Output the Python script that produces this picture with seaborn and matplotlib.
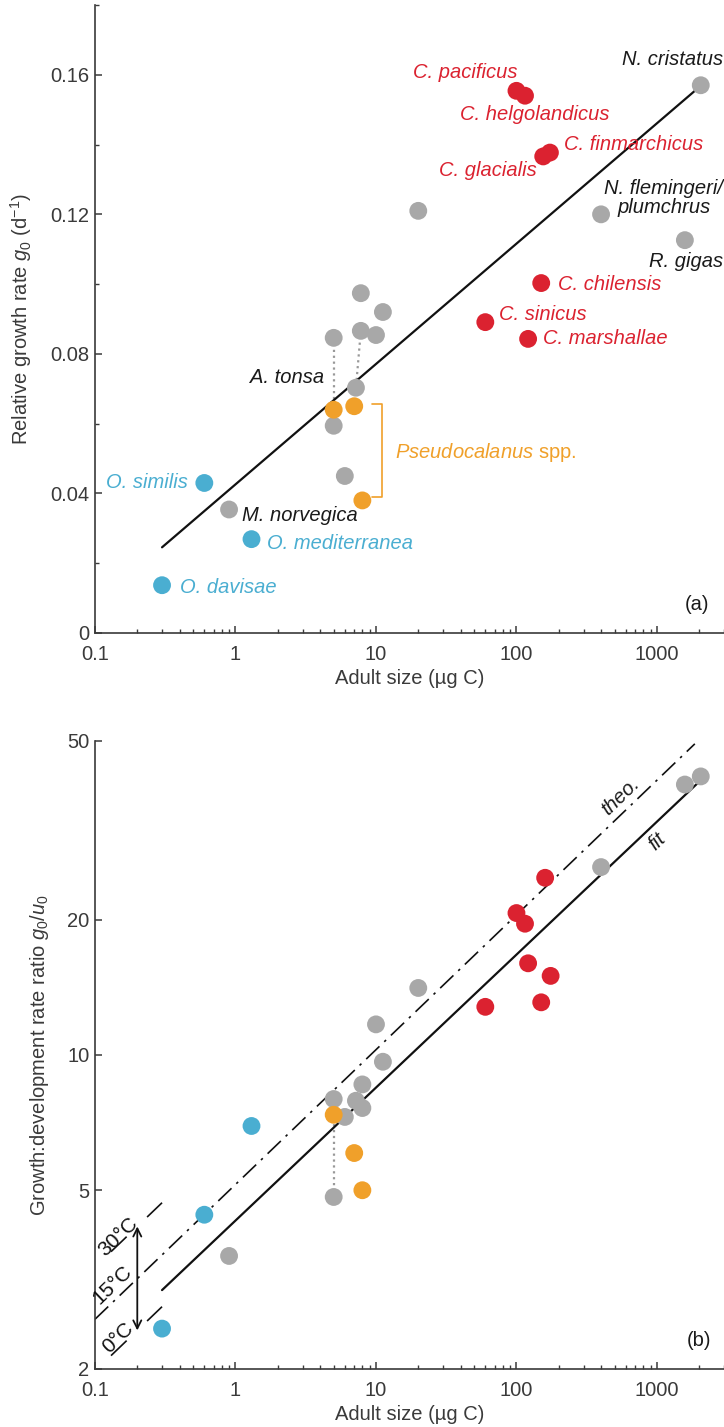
import numpy as np
import pandas as pd
import matplotlib
matplotlib.use("Agg")
import matplotlib.pyplot as plt
import matplotlib.ticker as mticker
import seaborn as sns

# Colours of the four groups
group_colors = {"Oithona": "#4aaed1", "other": "#a8a8a8",
                "Pseudocalanus": "#f0a02a", "Calanus": "#db2230"}

# Panel (a): adult size (ug C) vs relative growth rate g0 (1/d)
top_size = [0.3, 0.6, 1.3,
            0.9, 7.8, 11.2, 5.0, 7.8, 10.0, 7.2, 5.0, 6.0, 20.0, 400, 1580, 2050,
            5.0, 7.0, 8.0,
            100, 115, 173, 155, 150, 60, 121]
top_g0 = [0.0137, 0.043, 0.0269,
          0.0354, 0.0974, 0.092, 0.0846, 0.0866, 0.0854, 0.0703, 0.0594, 0.045, 0.121, 0.120, 0.1126, 0.157,
          0.064, 0.065, 0.038,
          0.1554, 0.154, 0.1377, 0.1366, 0.1003, 0.0891, 0.0843]
top_group = ["Oithona"] * 3 + ["other"] * 13 + ["Pseudocalanus"] * 3 + ["Calanus"] * 7
top_links = [(6, 16), (7, 9)]   # dotted connectors (index pairs)

# Panel (b): adult size vs growth:development rate ratio g0/u0
bot_size = [0.3, 0.6, 1.3,
            0.9, 5.0, 5.0, 6.0, 7.2, 8.0, 8.0, 11.2, 10.0, 20.0, 400, 1580, 2050,
            5.0, 7.0, 8.0,
            160, 100, 115, 121, 175, 150, 60]
bot_ratio = [2.46, 4.41, 6.95,
             3.57, 4.83, 7.98, 7.28, 7.91, 7.62, 8.6, 9.66, 11.7, 14.1, 26.2, 40.0, 41.7,
             7.36, 6.05, 5.0,
             24.8, 20.7, 19.6, 16.0, 15.0, 13.1, 12.8]
bot_group = ["Oithona"] * 3 + ["other"] * 13 + ["Pseudocalanus"] * 3 + ["Calanus"] * 7
bot_links = [(4, 16)]

# Fits
top_fit_a, top_fit_b = 0.0426, 0.0345          # g0 = a + b*log10(W)
top_fit_range = (0.3, 2050)
bot_fit_c, bot_fit_e = 4.28, 0.296              # g0/u0 = c * W^e
bot_fit_range = (0.3, 2000)
theo_e = 0.3
theo_c = {0: 3.95, 15: 5.15, 30: 6.73}          # theoretical line per temperature
theo_range = (0.1, 1860)
temp_range = (0.13, 0.3)

# Species labels for panel (a): text, x, y, ha, colour group
labels = [
    ("C. pacificus", 102, 0.1606, "right", "Calanus"),
    ("C. helgolandicus", 39.6, 0.1486, "left", "Calanus"),
    ("C. finmarchicus", 218, 0.140, "left", "Calanus"),
    ("C. glacialis", 140, 0.1326, "right", "Calanus"),
    ("C. chilensis", 197, 0.100, "left", "Calanus"),
    ("C. sinicus", 75, 0.0914, "left", "Calanus"),
    ("C. marshallae", 155, 0.0843, "left", "Calanus"),
    ("N. cristatus", 2950, 0.1643, "right", "black"),
    ("N. flemingeri/\nplumchrus", 1122, 0.1246, "center", "black"),
    ("R. gigas", 2950, 0.1066, "right", "black"),
    ("A. tonsa", 4.27, 0.0731, "right", "black"),
    ("M. norvegica", 1.11, 0.0337, "left", "black"),
    ("O. similis", 0.459, 0.0431, "right", "Oithona"),
    ("O. mediterranea", 1.67, 0.0257, "left", "Oithona"),
    ("O. davisae", 0.403, 0.0131, "left", "Oithona"),
]

x_ticks = [0.1, 1, 10, 100, 1000]
x_ticklabels = ["0.1", "1", "10", "100", "1000"]
top_yticks = [0, 0.04, 0.08, 0.12, 0.16]
top_yticklabels = ["0", "0.04", "0.08", "0.12", "0.16"]
bot_yticks = [2, 5, 10, 20, 50]

sns.set_style("ticks")
plt.rcParams["font.family"] = ["Liberation Sans", "DejaVu Sans"]
plt.rcParams["mathtext.fontset"] = "custom"
plt.rcParams["mathtext.rm"] = "Liberation Sans"
plt.rcParams["mathtext.it"] = "Liberation Sans:italic"
plt.rcParams["font.size"] = 14.5
ink = "#3a3a3a"

fig = plt.figure(figsize=(7.24, 14.27), dpi=100)
ax1 = fig.add_axes([95 / 724, 794 / 1427, 629 / 724, 628 / 1427])
ax2 = fig.add_axes([95 / 724, 58 / 1427, 629 / 724, 628 / 1427])

df_top = pd.DataFrame({"size": top_size, "g0": top_g0, "group": top_group})
df_bot = pd.DataFrame({"size": bot_size, "ratio": bot_ratio, "group": bot_group})

# ---- panel (a)
for i, j in top_links:
    ax1.plot([top_size[i], top_size[j]], [top_g0[i], top_g0[j]], ls=":", color="#999999", lw=1.6, zorder=1)
xf = np.logspace(np.log10(top_fit_range[0]), np.log10(top_fit_range[1]), 50)
ax1.plot(xf, top_fit_a + top_fit_b * np.log10(xf), color="#111111", lw=1.6, zorder=2)
sns.scatterplot(data=df_top, x="size", y="g0", hue="group", palette=group_colors,
                s=165, linewidth=0, legend=False, ax=ax1, zorder=3)

for txt, x, y, ha, grp in labels:
    col = group_colors.get(grp, "#1a1a1a")
    ax1.text(x, y, txt, ha=ha, va="center", style="italic", color=col,
             fontsize=14.5, linespacing=1.0, clip_on=False)
ax1.text(13.6, 0.0517, r"$\mathit{Pseudocalanus}$ spp.", ha="left", va="center",
         color=group_colors["Pseudocalanus"], fontsize=14.5)
# bracket for Pseudocalanus
ax1.plot([9.36, 11.0, 11.0, 9.36], [0.0657, 0.0657, 0.0389, 0.0389],
         color=group_colors["Pseudocalanus"], lw=1.2)
ax1.text(0.957, 0.045, "(a)", transform=ax1.transAxes, ha="center", va="center", fontsize=14.5, color="#1a1a1a")

ax1.set_xscale("log")
ax1.set_xlim(0.1, 3000)
ax1.set_ylim(0, 0.18)
ax1.set_yticks(top_yticks)
ax1.set_yticklabels(top_yticklabels)
ax1.yaxis.set_minor_locator(mticker.MultipleLocator(0.02))
ax1.set_ylabel(r"Relative growth rate $g_0$ (d$^{-1}$)", color=ink, labelpad=12)

# ---- panel (b)
for i, j in bot_links:
    ax2.plot([bot_size[i], bot_size[j]], [bot_ratio[i], bot_ratio[j]], ls=":", color="#999999", lw=1.6, zorder=1)
xf = np.logspace(np.log10(bot_fit_range[0]), np.log10(bot_fit_range[1]), 50)
ax2.plot(xf, bot_fit_c * xf ** bot_fit_e, color="#111111", lw=1.6, zorder=2)
xt = np.logspace(np.log10(theo_range[0]), np.log10(theo_range[1]), 200)
theo_line, = ax2.plot(xt, theo_c[15] * xt ** theo_e, color="#111111", lw=1.2, zorder=2)
theo_line.set_dashes((11, 4, 1.5, 4))
xs = np.logspace(np.log10(temp_range[0]), np.log10(temp_range[1]), 20)
for T in (0, 30):
    ax2.plot(xs, theo_c[T] * xs ** theo_e, color="#111111", lw=1.2, ls=(0, (13, 17)), zorder=2)
sns.scatterplot(data=df_bot, x="size", y="ratio", hue="group", palette=group_colors,
                s=165, linewidth=0, legend=False, ax=ax2, zorder=3)

ax2.annotate("", xy=(0.2, theo_c[30] * 0.2 ** theo_e), xytext=(0.2, theo_c[0] * 0.2 ** theo_e),
             arrowprops=dict(arrowstyle="<->", color="#111111", lw=1.3, shrinkA=0, shrinkB=0))
for T, x, y in [(30, 0.146, 3.93), (15, 0.132, 3.08), (0, 0.146, 2.35)]:
    ax2.text(x, y, f"{T}°C", rotation=44, ha="center", va="center", fontsize=15, color="#111111")
ax2.text(546, 37.6, "theo.", rotation=44, ha="center", va="center", style="italic", fontsize=14.5, color="#1a1a1a")
ax2.text(1000, 29.9, "fit", rotation=44, ha="center", va="center", style="italic", fontsize=14.5, color="#1a1a1a")
ax2.text(0.960, 0.046, "(b)", transform=ax2.transAxes, ha="center", va="center", fontsize=14.5, color="#1a1a1a")

ax2.set_xscale("log")
ax2.set_yscale("log")
ax2.set_xlim(0.1, 3000)
ax2.set_ylim(2, 50)
ax2.set_yticks(bot_yticks)
ax2.set_yticklabels([str(v) for v in bot_yticks])
ax2.yaxis.set_minor_locator(mticker.NullLocator())
ax2.set_ylabel(r"Growth:development rate ratio $g_0/u_0$", color=ink, labelpad=12)

for ax in (ax1, ax2):
    ax.set_xticks(x_ticks)
    ax.set_xticklabels(x_ticklabels)
    ax.xaxis.set_minor_locator(mticker.LogLocator(base=10, subs=np.arange(2, 10)))
    ax.xaxis.set_minor_formatter(mticker.NullFormatter())
    ax.set_xlabel("Adult size (µg C)", color=ink, labelpad=3)
    sns.despine(ax=ax)
    for s in ("left", "bottom"):
        ax.spines[s].set_color(ink)
        ax.spines[s].set_linewidth(1.2)
    ax.tick_params(which="major", direction="in", length=5, width=1.1, color=ink,
                   labelcolor=ink, labelsize=14.5, pad=4)
    ax.tick_params(which="minor", direction="in", length=3, width=1.0, color=ink)
    ax.tick_params(axis="x", which="major", pad=9)

fig.savefig("out.png", dpi=100)
